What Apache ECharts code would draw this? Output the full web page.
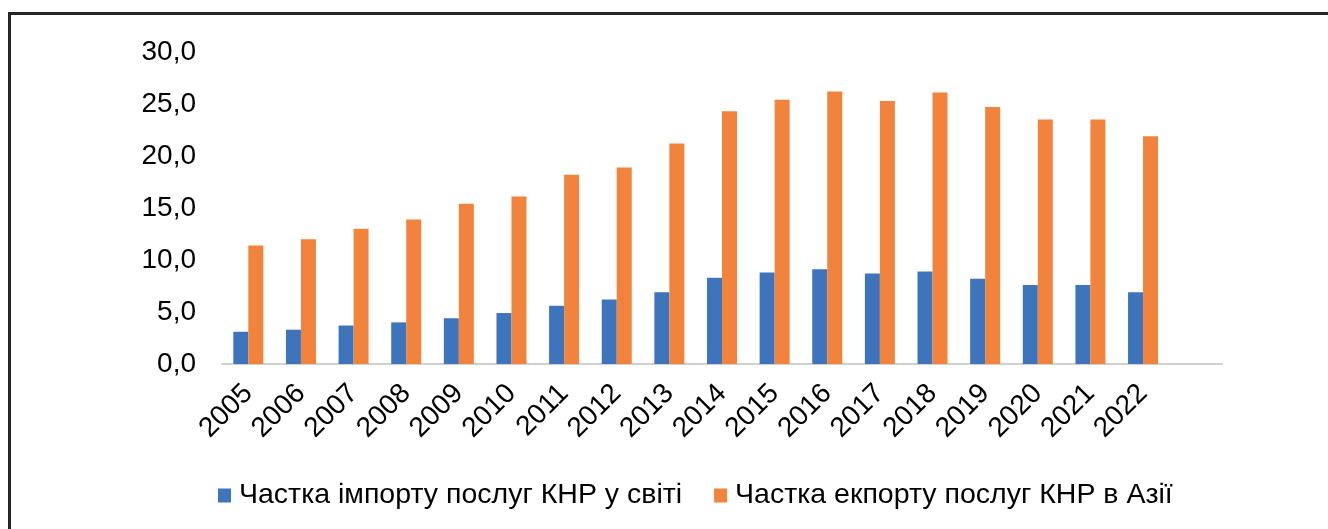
<!DOCTYPE html>
<html>
<head>
<meta charset="utf-8">
<script src="https://cdn.jsdelivr.net/npm/echarts@6/dist/echarts.min.js"></script>
<style>
	html,body{margin:0;padding:0;background:#fff;}
	#wrap{position:relative;width:1328px;height:529px;overflow:hidden;}
	#frame{position:absolute;left:8px;top:12px;width:1340px;height:540px;border-top:3px solid #262626;border-left:3px solid #262626;}
	#chartShare{position:absolute;left:0;top:0;width:1328px;height:529px;}
</style>
</head>
<body>
<div id="wrap">
	<div id="frame"></div>
	<div id="chartShare"></div>
</div>
<script>
// роки (останній слот порожній, як у вихідному графіку)
var years = ['2005','2006','2007','2008','2009','2010','2011','2012','2013','2014','2015','2016','2017','2018','2019','2020','2021','2022',''];
var importWorld = [3.1, 3.3, 3.7, 4.0, 4.4, 4.9, 5.6, 6.2, 6.9, 8.3, 8.8, 9.1, 8.7, 8.9, 8.2, 7.6, 7.6, 6.9, null];
var exportAsia = [11.4, 12.0, 13.0, 13.9, 15.4, 16.1, 18.2, 18.9, 21.2, 24.3, 25.4, 26.2, 25.3, 26.1, 24.7, 23.5, 23.5, 21.9, null];
var seriesNames = ['Частка імпорту послуг КНР у світі','Частка екпорту послуг КНР в Азії'];
var yTicks = [0, 5, 10, 15, 20, 25, 30];

(function(){
	myecharts();
})();

function myecharts(){
	var chartShare = echarts.init(document.getElementById('chartShare'));
	var chartShare_option = {
		animation: false,
		textStyle: { fontFamily: 'Liberation Sans, Arial, sans-serif' },
		legend: {
			left: 213,
			top: 476,
			itemWidth: 13,
			itemHeight: 14,
			itemGap: 32,
			icon: 'rect',
			textStyle: {
				fontSize: 28.5,
				color: '#000',
				padding: [0, 0, 0, 3]
			},
			data: seriesNames
		},
		grid: {
			left: 222,
			right: 106,
			top: 52,
			bottom: 165,
			containLabel: false
		},
		xAxis: {
			type: 'category',
			data: years,
			axisTick: { show: false },
			axisLine: { lineStyle: { color: '#d0d0d0', width: 2 } },
			axisLabel: {
				rotate: 45,
				interval: 0,
				margin: 25,
				fontSize: 28,
				color: '#000'
			}
		},
		yAxis: {
			type: 'value',
			min: yTicks[0],
			max: yTicks[yTicks.length - 1],
			interval: 5,
			splitLine: { show: false },
			axisLine: { show: false },
			axisTick: { show: false },
			axisLabel: {
				margin: 26,
				fontSize: 28,
				color: '#000',
				formatter: function(v){ return v.toFixed(1).replace('.', ','); }
			}
		},
		series: [
			{
				name: seriesNames[0],
				type: 'bar',
				barWidth: 15,
				barGap: '0%',
				itemStyle: { color: '#3e74bc' },
				data: importWorld
			},
			{
				name: seriesNames[1],
				type: 'bar',
				barWidth: 15,
				barGap: '0%',
				itemStyle: { color: '#f1833c' },
				data: exportAsia
			}
		]
	};
	chartShare.setOption(chartShare_option);
}
</script>
</body>
</html>
